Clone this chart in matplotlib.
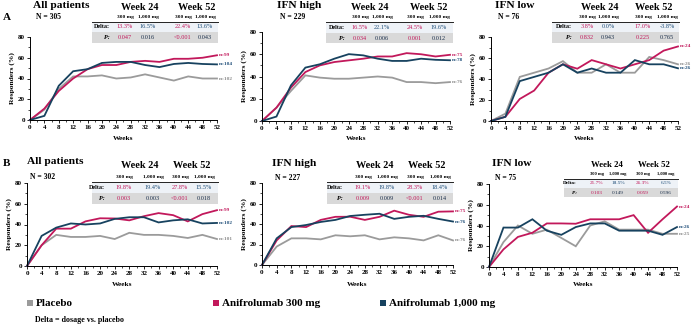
import matplotlib
matplotlib.use("Agg")
import matplotlib.pyplot as plt
from matplotlib.patches import Rectangle
from matplotlib.ticker import MultipleLocator

plt.rcParams['font.family'] = ['Liberation Serif', 'DejaVu Serif']
plt.rcParams['font.weight'] = 'bold'

weeks = [0, 4, 8, 12, 16, 20, 24, 28, 32, 36, 40, 44, 48, 52]

# Row A
a_all_placebo = [0, 10, 30, 42, 42, 43, 40, 41, 44, 41, 38, 42, 40, 40]
a_all_300 = [0, 11, 28, 40, 49, 53, 53, 56, 57, 56, 59, 59, 60, 62.4]
a_all_1000 = [0, 4, 33, 47, 49, 55, 56, 56, 53, 51, 54, 55, 54, 53.6]
a_all_n = ["n=102", "n=99", "n=104"]
a_all_delta = ["13.3%", "16.5%", "22.4%", "13.6%"]
a_all_p = ["0.047", "0.016", "<0.001", "0.043"]

a_high_placebo = [0, 12, 27, 41, 39, 38, 38, 39, 40, 39, 35, 35, 34, 35]
a_high_300 = [0, 12, 30, 44, 50, 53, 54.5, 56, 58, 58, 61, 60, 58, 59.5]
a_high_1000 = [0, 4, 32, 48, 51, 56, 60.1, 59, 56, 54, 54, 56, 55, 54.6]
a_high_n = ["n=76", "n=75", "n=78"]
a_high_delta = ["16.5%", "22.1%", "24.5%", "19.6%"]
a_high_p = ["0.034", "0.006", "0.001", "0.012"]

a_low_placebo = [0, 7, 42, 46, 50, 57, 46, 46, 54, 46, 46, 61, 58, 54]
a_low_300 = [0, 4, 21, 29, 46, 54, 49.8, 58, 54, 50, 54, 58, 67, 71]
a_low_1000 = [0, 4, 38, 42, 46, 54, 46, 50, 46, 46, 58, 54, 54, 50.2]
a_low_n = ["n=26", "n=24", "n=26"]
a_low_delta = ["3.8%", "0.0%", "17.0%", "-3.8%"]
a_low_p = ["0.832", "0.943", "0.225", "0.765"]

# Row B
b_all_placebo = [0, 20, 30, 28, 28, 29, 26, 32, 30, 30, 29, 27, 30, 26]
b_all_300 = [0, 20, 36, 36, 43, 46, 45.8, 44, 48, 51, 49, 43, 50, 53.8]
b_all_1000 = [0, 29, 37, 41, 40, 41, 45.4, 47, 47, 42, 44, 45, 41, 41.5]
b_all_n = ["n=101", "n=99", "n=102"]
b_all_delta = ["19.8%", "19.4%", "27.8%", "15.5%"]
b_all_p = ["0.003", "0.003", "<0.001", "0.018"]

b_high_placebo = [0, 18, 26, 26, 25, 29, 28, 29, 25, 27, 26, 24, 29, 24]
b_high_300 = [0, 24, 38, 37, 44, 47, 47.1, 44, 47, 53, 49, 47, 52, 52.3]
b_high_1000 = [0, 26, 37, 39, 42, 44, 47.8, 49, 50, 45, 47, 48, 45, 42.4]
b_high_n = ["n=76", "n=75", "n=76"]
b_high_delta = ["19.1%", "19.8%", "28.3%", "18.4%"]
b_high_p = ["0.009", "0.009", "<0.001", "0.014"]

b_low_placebo = [0, 24, 40, 32, 36, 28, 20, 40, 44, 36, 36, 36, 32, 32]
b_low_300 = [0, 17, 29, 33, 42, 42, 41.7, 46, 46, 46, 50, 33, 46, 58.3]
b_low_1000 = [0, 38, 38, 46, 35, 31, 38.5, 42, 42, 35, 35, 35, 31, 38.5]
b_low_n = ["n=25", "n=24", "n=26"]
b_low_delta = ["21.7%", "18.5%", "26.3%", "6.5%"]
b_low_p = ["0.103", "0.149", "0.059", "0.596"]

series_names = ["Placebo", "Anifrolumab 300 mg", "Anifrolumab 1,000 mg"]
line_colors = ["#9b9b9b", "#c2185b", "#17425f"]
text_colors = ["#8a8a8a", "#c2185b", "#1f4e79"]

W, H = 693, 326
fig = plt.figure(figsize=(W / 100, H / 100), dpi=100)


def frac(l, t, r, b):
    return [l / W, 1 - b / H, (r - l) / W, (b - t) / H]


panels = [
    dict(box=(30, 37, 217, 120), title="All patients", tx=33, ty=6, N="N = 305", ny=17,
         data=(a_all_placebo, a_all_300, a_all_1000), n=a_all_n,
         delta=a_all_delta, p=a_all_p,
         tab=(92, 218, 22, 32, 43), wk=(140, 197, 7), sub=17, cols=(125, 148, 183, 205), lab=110, fs=1.0,
         xl=138),
    dict(box=(262, 32, 450, 121), title="IFN high", tx=277, ty=6, N="N = 229", ny=17,
         data=(a_high_placebo, a_high_300, a_high_1000), n=a_high_n,
         delta=a_high_delta, p=a_high_p,
         tab=(326, 453, 22, 33, 43), wk=(370, 429, 7), sub=17, cols=(360, 382, 415, 439), lab=345, fs=1.0,
         xl=138),
    dict(box=(491, 37, 678, 121), title="IFN low", tx=495, ty=6, N="N = 76", ny=17,
         data=(a_low_placebo, a_low_300, a_low_1000), n=a_low_n,
         delta=a_low_delta, p=a_low_p,
         tab=(552, 679, 22, 32, 43), wk=(600, 654, 7), sub=17, cols=(587, 608, 643, 667), lab=572, fs=1.0,
         xl=139),
    dict(box=(27, 183, 217, 266), title="All patients", tx=27, ty=162, N="N = 302", ny=177,
         data=(b_all_placebo, b_all_300, b_all_1000), n=b_all_n,
         delta=b_all_delta, p=b_all_p,
         tab=(92, 218, 182, 193, 204), wk=(140, 192, 165), sub=177, cols=(124, 153, 180, 204), lab=105, fs=1.0,
         xl=284),
    dict(box=(262, 183, 453, 265), title="IFN high", tx=272, ty=164, N="N = 227", ny=178,
         data=(b_high_placebo, b_high_300, b_high_1000), n=b_high_n,
         delta=b_high_delta, p=b_high_p,
         tab=(327, 453, 182, 193, 204), wk=(375, 427, 165), sub=177, cols=(363, 387, 415, 440), lab=343, fs=1.0,
         xl=284),
    dict(box=(489, 184, 677, 267), title="IFN low", tx=492, ty=164, N="N = 75", ny=178,
         data=(b_low_placebo, b_low_300, b_low_1000), n=b_low_n,
         delta=b_low_delta, p=b_low_p,
         tab=(564, 678, 179, 188, 197), wk=(607, 654, 165), sub=174, cols=(597, 618, 643, 666), lab=577, fs=0.85,
         xl=285),
]

for pn in panels:
    ax = fig.add_axes(frac(*pn['box']))
    for vals, c in zip(pn['data'], line_colors):
        ax.plot(weeks, vals, color=c, lw=1.3, solid_joinstyle='miter', clip_on=False)
    ax.set_xlim(0, 52)
    ax.set_ylim(0, 80)
    ax.set_xticks(weeks)
    ax.set_yticks([0, 20, 40, 60, 80])
    ax.yaxis.set_minor_locator(MultipleLocator(10))
    ax.xaxis.set_minor_locator(MultipleLocator(2))
    ax.tick_params(labelsize=5.0, length=2.2, width=0.6, pad=1.5)
    ax.tick_params(which='minor', length=1.3, width=0.5)
    for lbl in ax.get_xticklabels() + ax.get_yticklabels():
        lbl.set_fontweight('bold')
    for s in ('top', 'right'):
        ax.spines[s].set_visible(False)
    for s in ('left', 'bottom'):
        ax.spines[s].set_linewidth(0.7)
    ax.set_ylabel("Responders (%)", fontsize=5.4, fontweight='bold', labelpad=2)
    ax.patch.set_alpha(0)
    for vals, c, lab in zip(pn['data'], text_colors, pn['n']):
        ax.annotate(lab, xy=(52, vals[-1]), xytext=(1.5, 0), textcoords='offset points',
                    fontsize=3.8, color=c, va='center', ha='left', annotation_clip=False)

# overlay in pixel coordinates for titles, tables and legend
ov = fig.add_axes([0, 0, 1, 1])
ov.set_xlim(0, W)
ov.set_ylim(H, 0)
ov.axis('off')
ov.patch.set_alpha(0)

ov.text(3, 18, "A", fontsize=8, fontweight='bold', va='center', ha='left')
ov.text(3, 163, "B", fontsize=8, fontweight='bold', va='center', ha='left')

for pn in panels:
    f = pn['fs']
    ov.text(pn['tx'], pn['ty'], pn['title'], fontsize=8.2, fontweight='bold', va='center', ha='left')
    ov.text(pn['tx'] + 3, pn['ny'], pn['N'], fontsize=5.5, fontweight='bold', va='center', ha='left')
    l, r, t1, t2, t3 = pn['tab']
    ov.add_patch(Rectangle((l, t1), r - l, t2 - t1, facecolor='#eef2f7', edgecolor='none', zorder=3))
    ov.add_patch(Rectangle((l, t2), r - l, t3 - t2, facecolor='#d9d9d9', edgecolor='none', zorder=3))
    ov.plot([l, r], [t1, t1], color='#222222', lw=0.7, zorder=4)
    w24, w52, wy = pn['wk']
    ov.text(w24, wy, "Week 24", fontsize=7.4 * f, fontweight='bold', ha='center', va='center')
    ov.text(w52, wy, "Week 52", fontsize=7.4 * f, fontweight='bold', ha='center', va='center')
    subs = ["300 mg", "1,000 mg", "300 mg", "1,000 mg"]
    for cx, s in zip(pn['cols'], subs):
        ov.text(cx, pn['sub'], s, fontsize=3.9 * f, fontweight='bold', ha='center', va='center')
    ym1 = (t1 + t2) / 2
    ym2 = (t2 + t3) / 2
    ov.text(pn['lab'], ym1, "Delta:", fontsize=4.4 * f, fontweight='bold', ha='right', va='center', zorder=5)
    ov.text(pn['lab'], ym2, "P:", fontsize=4.4 * f, fontweight='bold', style='italic', ha='right', va='center', zorder=5)
    dcols = [text_colors[1], text_colors[2], text_colors[1], text_colors[2]]
    pcols = [text_colors[1], "#1b2f4a", text_colors[1], "#1b2f4a"]
    for cx, dv, pv, dc, pc in zip(pn['cols'], pn['delta'], pn['p'], dcols, pcols):
        ov.text(cx, ym1, dv, fontsize=4.5 * f, color=dc, ha='center', va='center', zorder=5,
                fontweight='normal')
        ov.text(cx, ym2, pv, fontsize=4.5 * f, color=pc, ha='center', va='center', zorder=5,
                fontweight='normal')
    bl, bt, br, bb = pn['box']
    ov.text((bl + br) / 2, pn['xl'], "Weeks", fontsize=5.3, fontweight='bold', ha='center', va='center')

# legend
leg_x = [27, 213, 380]
for x0, name, c in zip(leg_x, series_names, line_colors):
    ov.add_patch(Rectangle((x0, 300), 5.5, 5.5, facecolor=c, edgecolor='none'))
    ov.text(x0 + 9, 303, name, fontsize=8.0, fontweight='bold', ha='left', va='center')
ov.text(35, 320, "Delta = dosage vs. placebo", fontsize=5.8, fontweight='bold', ha='left', va='center')

fig.savefig("out.png", dpi=100)
